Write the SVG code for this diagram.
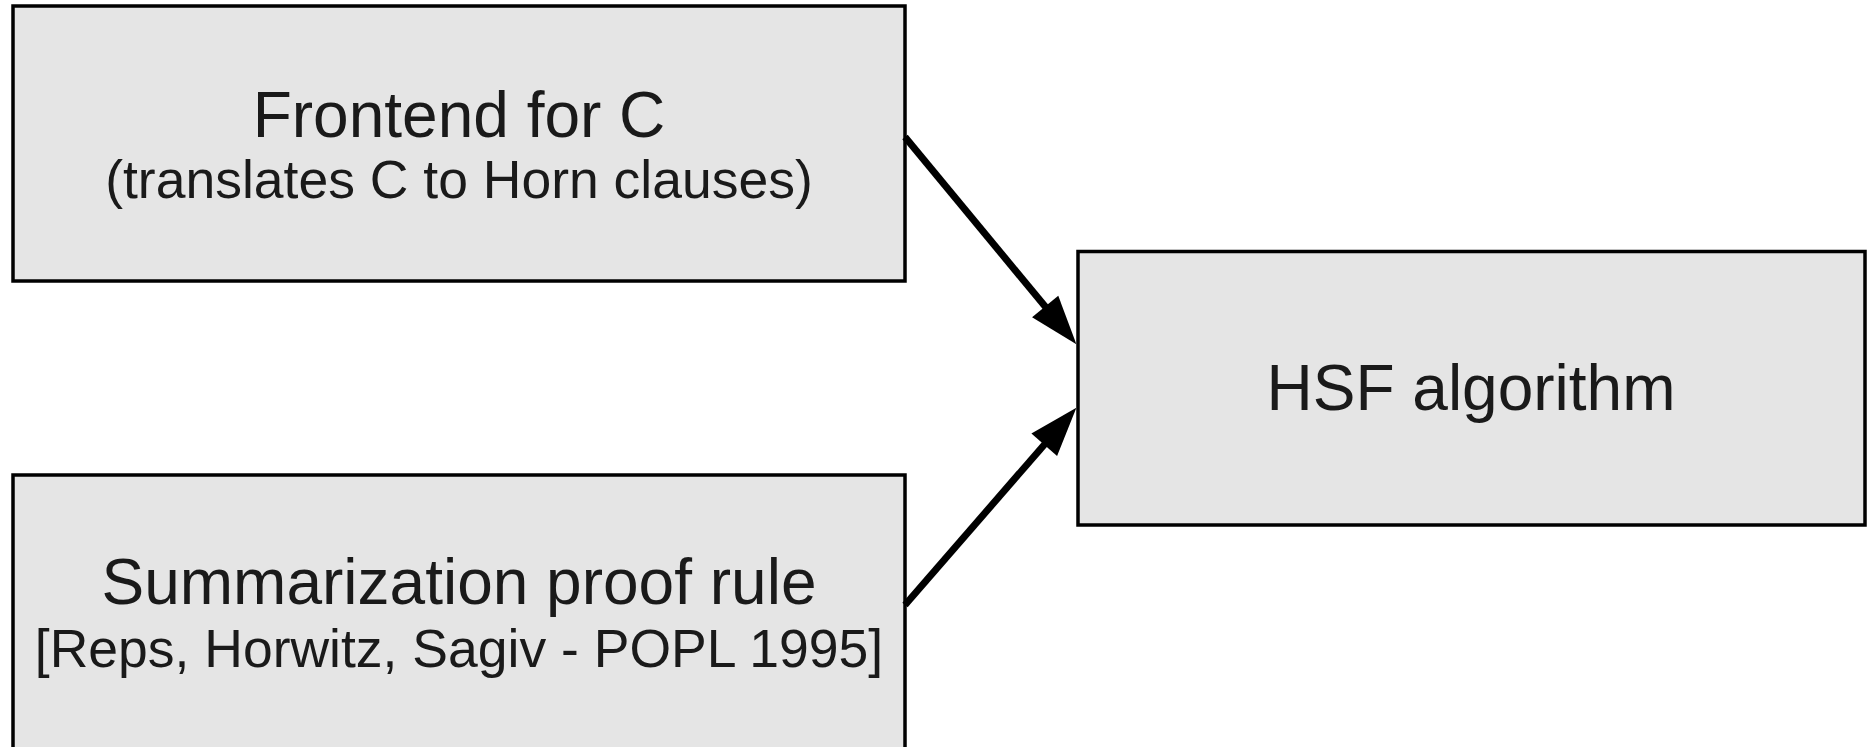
<svg xmlns="http://www.w3.org/2000/svg" width="1873" height="747" viewBox="0 0 1873 747">
  <style>
    .box { fill: #e5e5e5; stroke: #000; stroke-width: 3.5; }
    .t1 { font-family: "Liberation Sans", Arial, sans-serif; font-size: 64px; fill: #1a1a1a; text-anchor: middle; }
    .t2 { font-family: "Liberation Sans", Arial, sans-serif; font-size: 53.5px; fill: #1a1a1a; text-anchor: middle; }
    .conn { stroke: #000; stroke-width: 7; fill: none; }
  </style>
  <defs>
    <marker id="arrow" markerUnits="userSpaceOnUse" markerWidth="52" markerHeight="38" viewBox="-1 -19 52 38" refX="1" refY="0" orient="auto">
      <path d="M0,-17 L49,0 L0,17 z" fill="#000"/>
    </marker>
  </defs>
  <rect width="1873" height="747" fill="#fff"/>
  <g id="frontend">
    <rect class="box" x="13" y="6" width="892" height="275"/>
    <text class="t1" x="459" y="137">Frontend for C</text>
    <text class="t2" x="459" y="198">(translates C to Horn clauses)</text>
  </g>
  <g id="summarization">
    <rect class="box" x="13" y="475" width="892" height="290"/>
    <text class="t1" x="459" y="604">Summarization proof rule</text>
    <text class="t2" x="459" y="667">[Reps, Horwitz, Sagiv - POPL 1995]</text>
  </g>
  <g id="hsf">
    <rect class="box" x="1078" y="251.5" width="787" height="273.5"/>
    <text class="t1" x="1471" y="410">HSF algorithm</text>
  </g>
  <g id="connectors">
    <line class="conn" x1="905" y1="137" x2="1045.8" y2="307.3" marker-end="url(#arrow)"/>
    <line class="conn" x1="905" y1="605" x2="1044.9" y2="444" marker-end="url(#arrow)"/>
  </g>
</svg>
